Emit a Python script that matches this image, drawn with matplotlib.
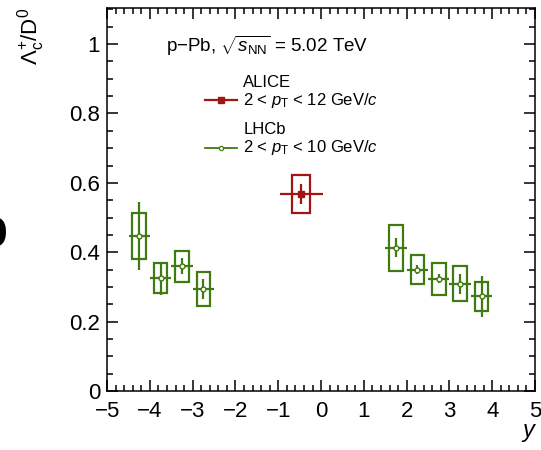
import numpy as np
import matplotlib
matplotlib.use("Agg")
import matplotlib.pyplot as plt
from matplotlib.patches import Rectangle
from matplotlib.ticker import MultipleLocator

plt.rcParams['font.family'] = ['Liberation Sans', 'DejaVu Sans']
plt.rcParams['mathtext.fontset'] = 'custom'
plt.rcParams['mathtext.rm'] = 'Liberation Sans'
plt.rcParams['mathtext.it'] = 'Liberation Sans:italic'
plt.rcParams['mathtext.bf'] = 'Liberation Sans:bold'

# ALICE (mid-rapidity)
alice_y = [-0.46]
alice_dy = [0.5]
alice_val = [0.568]
alice_stat = [0.029]
alice_syst = [0.054]

# LHCb (backward and forward)
lhcb_y = [-4.25, -3.75, -3.25, -2.75, 1.75, 2.25, 2.75, 3.25, 3.75]
lhcb_dy = [0.25] * 9
lhcb_val = [0.447, 0.325, 0.360, 0.294, 0.413, 0.350, 0.323, 0.309, 0.273]
lhcb_stat = [0.097, 0.048, 0.023, 0.029, 0.028, 0.013, 0.013, 0.029, 0.060]
lhcb_syst = [0.067, 0.043, 0.045, 0.050, 0.066, 0.042, 0.047, 0.050, 0.042]

red = '#a31414'
green = '#3f7a12'

fig = plt.figure(figsize=(5.41, 4.5), dpi=100)
ax = fig.add_axes([0.198, 0.131, 0.791, 0.852])


def draw(ax, xs, dxs, vals, stats, systs, color, box_hw, marker, mfc, ms):
    for x, v, s in zip(xs, vals, systs):
        ax.add_patch(Rectangle((x - box_hw, v - s), 2 * box_hw, 2 * s,
                               fill=False, edgecolor=color, lw=1.6, zorder=2))
    ax.errorbar(xs, vals, xerr=dxs, yerr=stats, fmt=marker, color=color,
                mfc=mfc, mec=color, ms=ms, mew=1.0, elinewidth=1.6,
                capsize=0, zorder=3)


draw(ax, lhcb_y, lhcb_dy, lhcb_val, lhcb_stat, lhcb_syst, green, 0.16, 'o', 'white', 3.5)
draw(ax, alice_y, alice_dy, alice_val, alice_stat, alice_syst, red, 0.21, 's', red, 4.5)

ax.set_xlim(-5, 5)
ax.set_ylim(0, 1.105)
ax.xaxis.set_major_locator(MultipleLocator(1))
ax.xaxis.set_minor_locator(MultipleLocator(0.2))
ax.yaxis.set_major_locator(MultipleLocator(0.2))
ax.yaxis.set_minor_locator(MultipleLocator(0.05))
ax.yaxis.set_major_formatter(matplotlib.ticker.FuncFormatter(
    lambda v, p: '0' if abs(v) < 1e-9 else ('1' if abs(v - 1) < 1e-9 else '%.1f' % v)))
ax.xaxis.set_major_formatter(matplotlib.ticker.FuncFormatter(
    lambda v, p: ('\u2212%d' % abs(round(v))) if v < -0.01 else '%d' % round(v)))
ax.tick_params(which='both', direction='in', top=True, right=True,
               labelsize=16, width=1.1)
ax.tick_params(which='major', length=8)
ax.tick_params(which='minor', length=4)
ax.tick_params(axis='x', pad=7)
ax.tick_params(axis='y', pad=5)
for sp in ax.spines.values():
    sp.set_linewidth(1.1)

fig.text(0.057, 0.982, r'$\Lambda_{\rm c}^{+}$/D$^{0}$', rotation=90,
         ha='center', va='top', fontsize=16)
fig.text(0.988, 0.03, 'y', style='italic', ha='right', va='baseline', fontsize=17)

ax.text(0.138, 0.885, r'p$-$Pb, $\sqrt{s_{\rm NN}}$ = 5.02 TeV',
        transform=ax.transAxes, ha='left', va='baseline', fontsize=13.5)

# legend
tx = 0.318
fs = 12
ax.text(tx, 0.806, 'ALICE', transform=ax.transAxes, va='center', fontsize=fs)
ax.text(tx, 0.759, r'2 < $p_{\rm T}$ < 12 GeV/$c$', transform=ax.transAxes,
        va='center', fontsize=fs)
ax.text(tx, 0.681, 'LHCb', transform=ax.transAxes, va='center', fontsize=fs)
ax.text(tx, 0.634, r'2 < $p_{\rm T}$ < 10 GeV/$c$', transform=ax.transAxes,
        va='center', fontsize=fs)
ax.plot([0.229, 0.304], [0.759, 0.759], color=red, lw=1.6, transform=ax.transAxes)
ax.plot([0.2665], [0.759], 's', color=red, ms=4, transform=ax.transAxes)
ax.plot([0.229, 0.304], [0.634, 0.634], color=green, lw=1.3, transform=ax.transAxes)
ax.plot([0.2665], [0.634], 'o', color=green, mfc='white', ms=3, mew=0.9,
        transform=ax.transAxes)

# cut-off panel letter
fig.text(8 / 541, 1 - 246 / 450, 'b', ha='right', va='baseline',
         fontsize=38, weight='bold')

fig.savefig('out.png', dpi=100)
